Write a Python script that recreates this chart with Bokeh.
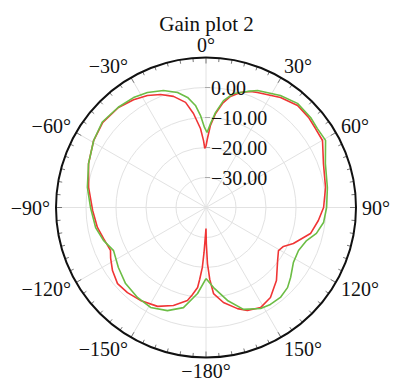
import numpy as np
from bokeh.plotting import figure
from bokeh.models import Range1d
from bokeh.embed import file_html
from bokeh.resources import INLINE
from bokeh.core.properties import value

# ---------------- data ----------------
title_text = "Gain plot 2"

red_theta = [-180, -177.5, -176.5, -175, -174, -171, -168.7, -161.6, -153.9, -144.8,
             -137.3, -130.7, -124, -118, -114.2, -106.8, -100.4, -91.5, -80.3, -69.5,
             -59.2, -50.5, -41.2, -33.9, -27.6, -21.9, -16.3, -11, -7.6, -4, -2.1,
             -1.2, 0, 1.2, 3.1, 5.8, 9, 12.4, 16.7, 21, 24.1, 34.1, 41.9, 48.7, 54.2,
             60.1, 69.5, 80.5, 90, 96.6, 104, 112.4, 116.7, 120.7, 126.5, 136, 144.4,
             151.4, 158.1, 162.7, 169.6, 175, 177, 178.5, 179.5, 180]
red_db = [-33.0, -25.0, -20.0, -16.0, -13.2, -10.5, -8.4, -5.6, -3.3, -2.1,
          -1.4, -1.1, -2.4, -4.0, -5.1, -4.3, -3.2, -2.2, -0.3, 1.8,
          3.6, 4.6, 4.3, 3.3, 2.1, 0.6, -1.4, -4.3, -8.4, -13.6, -17.7,
          -20.3, -19.5, -17.0, -12.6, -8.5, -4.9, -2.1, 0.0, 1.4, 2.0, 4.3, 5.7, 5.5, 5.0,
          4.8, 1.8, 0.4, -0.8, -2.3, -4.1, -8.5, -11.1, -11.9, -10.3, -6.2, -3.1,
          -2.0, -3.0, -4.7, -7.8, -11.2, -16.0, -21.3, -28.0, -33.0]

green_theta = [-180, -174.4, -167.3, -159.5, -151, -142.7, -133.4, -124.4, -115, -107.8,
               -100.3, -90, -80.4, -69.5, -59.2, -50.5, -41.2, -33.4, -27, -20, -13.9,
               -9.5, -5.9, -3.4, -1.1, 0.8, 3.1, 5.7, 9.3, 13.6, 19.7, 23.8, 33.6, 41.3,
               49.3, 54.7, 60.7, 69.8, 80.7, 90, 97.3, 103.2, 108.2, 114.9, 122.1, 129.6,
               134.5, 140.4, 146.4, 151.6, 159.8, 167, 174.6, 180]
green_db = [-16.3, -11.2, -5.8, -3.3, -1.9, -2.3, -3.1, -4.6, -6.0, -4.1,
            -2.6, -1.5, 0.1, 1.8, 3.6, 4.8, 4.4, 3.9, 3.0, 1.5, -0.5,
            -2.8, -5.8, -9.3, -13.3, -15.0, -12.0, -8.2, -3.9, -0.9, 1.1, 2.6, 4.8, 6.2,
            6.0, 5.5, 5.7, 2.4, 1.0, 0.2, -0.5, -2.2, -4.7, -6.0, -5.6, -3.4,
            -1.9, -1.1, -1.2, -1.7, -3.8, -8.2, -13.2, -16.3]

grid_db = [-30, -20, -10, 0]
radial_ticks = [0, -10, -20, -30]
radial_labels = ["0.00", "\u221210.00", "\u221220.00", "\u221230.00"]

angle_ticks = [0, 30, 60, 90, 120, 150, 180, -150, -120, -90, -60, -30]
angle_labels = ["0\u00b0", "30\u00b0", "60\u00b0", "90\u00b0", "120\u00b0", "150\u00b0",
                "\u2212180\u00b0", "\u2212150\u00b0", "\u2212120\u00b0", "\u221290\u00b0",
                "\u221260\u00b0", "\u221230\u00b0"]

# ---------------- scales ----------------
DB_MIN, DB_MAX = -40.0, 10.0
R_OUT = 150.0


def rad(db):
    return (np.asarray(db, dtype=float) - DB_MIN) / (DB_MAX - DB_MIN) * R_OUT


def to_xy(theta_deg, r):
    t = np.radians(np.asarray(theta_deg, dtype=float))
    r = np.asarray(r, dtype=float)
    return r * np.sin(t), r * np.cos(t)


SERIF = value("Liberation Serif")

W, H_FIG = 394, 384
CX, CY = 205.5, 207.0
p = figure(width=W, height=H_FIG, x_range=Range1d(-CX, W - CX), y_range=Range1d(CY - H_FIG, CY),
           x_axis_type=None, y_axis_type=None, toolbar_location=None,
           output_backend="svg", min_border=0, outline_line_color=None,
           background_fill_color="white", border_fill_color="white")
p.xgrid.visible = False
p.ygrid.visible = False

# grid circles
for g in grid_db:
    p.circle(x=0, y=0, radius=float(rad(g)), fill_color=None, line_color="#e2e2e2", line_width=1)

# spokes
spk = np.arange(0, 360, 30)
sx, sy = to_xy(spk, np.full(len(spk), R_OUT))
p.segment(x0=np.zeros(len(spk)), y0=np.zeros(len(spk)), x1=sx, y1=sy,
          line_color="#e2e2e2", line_width=1)

# outer ticks every 5 degrees
tk = np.arange(0, 360, 5)
ln = np.where(tk % 30 == 0, 6.0, 4.0)
ox, oy = to_xy(tk, np.full(len(tk), R_OUT))
ix, iy = to_xy(tk, R_OUT - ln)
p.segment(x0=ox, y0=oy, x1=ix, y1=iy, line_color="#777777", line_width=1)

# outer circle
p.circle(x=0, y=0, radius=R_OUT, fill_color=None, line_color="#111111", line_width=2)

# small radial tick marks
rt = rad(radial_ticks)
p.segment(x0=np.full(len(rt), -1.0), y0=rt, x1=np.full(len(rt), 4.0), y1=rt,
          line_color="#aaaaaa", line_width=1)

# curves
rx, ry = to_xy(red_theta, rad(red_db))
p.line(rx, ry, line_color="#f03535", line_width=1.6)
gx, gy = to_xy(green_theta, rad(green_db))
p.line(gx, gy, line_color="#6cbd45", line_width=1.6)

# radial labels
p.text(x=np.full(len(rt), 5.0), y=rt, text=radial_labels, text_font=SERIF,
       text_font_size="20px", text_align="left", text_baseline="middle", text_color="#111111")

# angle labels
FS = 20.0


def text_w(s):
    w = 0.0
    for c in s:
        if c == "\u2212":
            w += 0.564
        elif c == "\u00b0":
            w += 0.40
        else:
            w += 0.5
    return w * FS


R0 = 156.0
H = 14.0
lx, ly = [], []
for a, s in zip(angle_ticks, angle_labels):
    t = np.radians(a)
    sn, cs = np.sin(t), np.cos(t)
    w = text_w(s)
    hx = 0.0 if abs(sn) < 0.01 else np.sign(sn) * w / 2
    lx.append(R0 * sn + hx)
    ly.append(R0 * cs + H / 2 * cs)
p.text(x=lx, y=ly, text=angle_labels, text_font=SERIF, text_font_size="20px",
       text_align="center", text_baseline="middle", text_color="#111111")

# title
p.text(x=[0.5], y=[184.0], text=[title_text], text_font=SERIF, text_font_size="21px",
       text_align="center", text_baseline="alphabetic", text_color="#111111")

open("out.html", "w").write(file_html(p, INLINE))
